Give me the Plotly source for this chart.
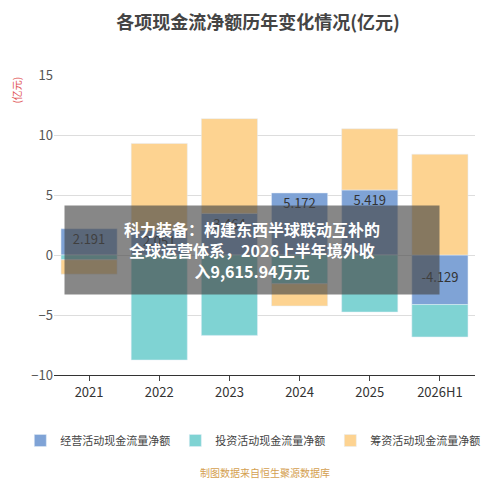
import plotly.graph_objects as go

years = ["2021", "2022", "2023", "2024", "2025", "2026H1"]
operating = [2.191, 2.051, 3.464, 5.172, 5.419, -4.129]
investing = [-0.4, -8.75, -6.7, -2.4, -4.75, -2.7]
financing = [-1.2, 7.25, 7.9, -1.85, 5.1, 8.4]

fig = go.Figure()
fig.add_bar(x=years, y=operating, name="经营活动现金流量净额", marker_color="#7fa3d6")
fig.add_bar(x=years, y=investing, name="投资活动现金流量净额", marker_color="#7fd3d3")
fig.add_bar(x=years, y=financing, name="筹资活动现金流量净额", marker_color="#fdd391")

label_y = [v - 1.0 if v > 0 else -2.0 for v in operating]
fig.add_scatter(x=years, y=label_y, mode="text", text=[f"{v:.3f}" for v in operating],
                textfont=dict(size=13, color="#333"), showlegend=False, hoverinfo="skip")

fig.add_annotation(xref="paper", yref="paper", x=0.47, y=0.417, showarrow=False,
                   text="<b>科力装备：构建东西半球联动互补的<br>全球运营体系，2026上半年境外收<br>入9,615.94万元</b>",
                   font=dict(size=16, color="white"), bgcolor="rgba(70,70,70,0.65)",
                   width=372, height=86, align="center")

fig.update_layout(
    barmode="relative", width=500, height=500,
    margin=dict(l=37, r=33, t=67, b=133, pad=0),
    paper_bgcolor="white", plot_bgcolor="white",
    font=dict(family="Noto Sans CJK SC", color="#555"),
    title=dict(text="<b>各项现金流净额历年变化情况(亿元)</b>", x=0.5, y=0.97, yanchor="middle",
               font=dict(size=18, color="#444")),
    bargap=0.2,
    xaxis=dict(type="category", showline=True, linecolor="#333", ticks="outside",
               tickfont=dict(size=13, color="#333")),
    yaxis=dict(range=[-10, 15], dtick=5, gridcolor="#ddd", zeroline=False,
               tickfont=dict(size=13, color="#555")),
    legend=dict(orientation="h", x=-0.08, y=-0.17, font=dict(size=11, color="#444")),
)
fig.add_annotation(xref="paper", yref="paper", x=-0.09, y=1.0, text="(亿元)", textangle=-90,
                   showarrow=False, font=dict(size=10, color="#e05050"), xanchor="center", yanchor="top")
fig.add_annotation(xref="paper", yref="paper", x=0.5, y=-0.355, text="制图数据来自恒生聚源数据库",
                   showarrow=False, font=dict(size=10, color="#d4a050"))
fig.write_html("out.html")
